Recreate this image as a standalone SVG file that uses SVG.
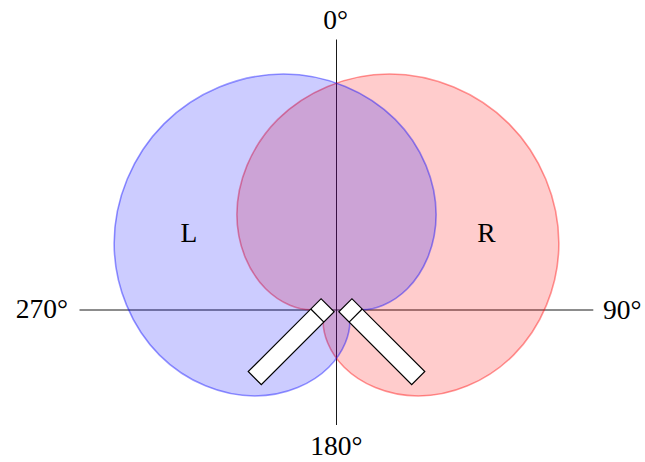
<svg xmlns="http://www.w3.org/2000/svg" width="645" height="462" viewBox="0 0 645 462">
  <style>
    .axis { stroke: #000; stroke-width: 0.9; fill: none; }
    .lbl { font-family: "Liberation Serif", "Times New Roman", serif; font-size: 27.5px; fill: #000; }
    .card { stroke-width: 1.6; }
    .blue { fill: rgba(0,0,255,0.2); stroke: rgba(0,0,255,0.4); }
    .red { fill: rgba(255,0,0,0.2); stroke: rgba(255,0,0,0.4); }
    .mic { fill: #fff; stroke: #000; stroke-width: 1.2; stroke-linejoin: miter; }
  </style>
  <defs>
    <path id="cardioid" d="M256.6,0 C256.6,44.79 237.92,89.12 207.33,119.70 C176.75,150.29 135.01,166.66 96.23,166.66 C57.44,166.66 22.39,150.69 0,128.3 C-22.39,105.91 -32.08,77.94 -32.08,55.55 C-32.08,33.17 -23.08,16.79 -14.88,8.60 C-6.68,0.40 0,0 0,0 C0,0 -6.68,-0.40 -14.88,-8.60 C-23.08,-16.79 -32.08,-33.17 -32.08,-55.55 C-32.08,-77.94 -22.39,-105.91 0,-128.3 C22.39,-150.69 57.44,-166.66 96.23,-166.66 C135.01,-166.66 176.75,-150.29 207.33,-119.70 C237.92,-89.12 256.6,-44.79 256.6,0 Z"/>
    <g id="micShape">
      <rect x="-103" y="-9.25" width="103" height="18.5" class="mic"/>
      <line x1="-14.5" y1="-9.25" x2="-14.5" y2="9.25" class="mic"/>
    </g>
  </defs>

  <g id="connectors">
    <line class="axis" x1="336.5" y1="39.5" x2="336.5" y2="425"/>
    <line class="axis" x1="79.5" y1="310" x2="593.3" y2="310"/>
  </g>

  <g id="pattern-R">
    <use href="#cardioid" class="card red" transform="translate(327.6,305.3) rotate(-45)"/>
  </g>
  <g id="pattern-L">
    <use href="#cardioid" class="card blue" transform="translate(345.4,305.3) rotate(-135)"/>
  </g>

  <g id="mic-left">
    <use href="#micShape" transform="translate(327.6,305.3) rotate(-45)"/>
  </g>
  <g id="mic-right">
    <use href="#micShape" transform="translate(345.4,305.3) rotate(-135)"/>
  </g>

  <g id="labels">
    <text class="lbl" x="335.5" y="29.3" text-anchor="middle">0°</text>
    <text class="lbl" x="336.3" y="455" text-anchor="middle">180°</text>
    <text class="lbl" x="68" y="318.3" text-anchor="end">270°</text>
    <text class="lbl" x="603" y="318.7">90°</text>
    <text class="lbl" x="188.8" y="241.5" text-anchor="middle">L</text>
    <text class="lbl" x="486.5" y="241.5" text-anchor="middle">R</text>
  </g>
</svg>
